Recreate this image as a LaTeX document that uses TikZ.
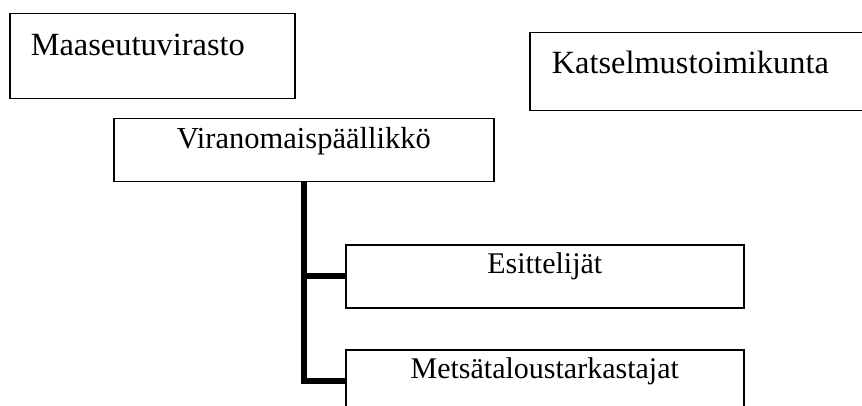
\documentclass[tikz,border=0pt]{standalone}
\usepackage{fontspec}
\setmainfont{Liberation Serif}
\begin{document}
\begin{tikzpicture}[x=1pt,y=-1pt,
  box/.style={draw,line width=1.5pt,anchor=north west,inner ysep=0pt},
  topbox/.style={box,align=left,font=\fontsize{32.4}{34}\selectfont},
  unitbox/.style={box,inner xsep=0pt,font=\fontsize{30}{32}\selectfont},
  branch/.style={line width=6pt,line join=miter}]
\useasboundingbox (0,0) rectangle (862,406);
\clip (0,0) rectangle (862,406);

\node[topbox,inner xsep=21pt,text width=243pt,text height=42pt,text depth=43pt] (agency) at (9,13) {Maaseutuvirasto};
\node[topbox,inner xsep=22pt,text width=307pt,text height=41pt,text depth=37pt] (review) at (529,32) {Katselmustoimikunta};

\node[unitbox,minimum width=380pt,text height=30pt,text depth=33pt,font=\fontsize{30.5}{32}\selectfont] (chief) at (113,118) {Viranomaispäällikkö};
\node[unitbox,minimum width=398pt,text height=29pt,text depth=34pt] (pres) at (345,244) {Esittelijät};
\node[unitbox,minimum width=398pt,text height=29pt,text depth=33pt] (insp) at (345,349) {Metsätaloustarkastajat};

\draw[branch] (chief.south) |- (pres.west);
\draw[branch] (chief.south) |- (insp.west);
\end{tikzpicture}
\end{document}
